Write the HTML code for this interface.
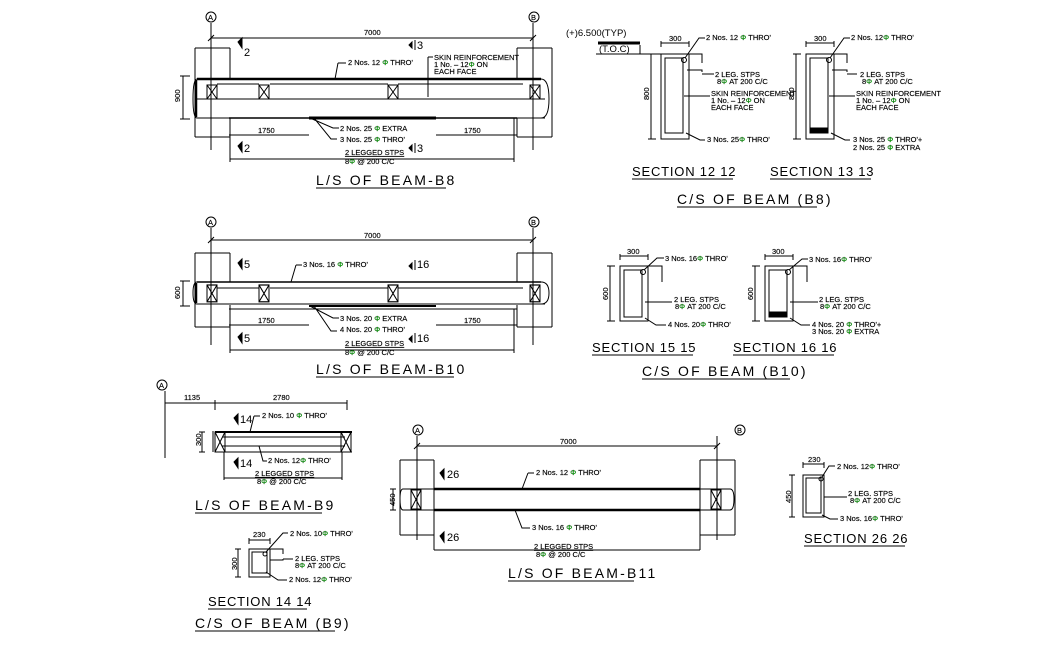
<!DOCTYPE html>
<html><head><meta charset="utf-8"><style>
html,body{margin:0;padding:0;background:#fff}
svg{display:block}
text{font-family:"Liberation Sans",sans-serif;fill:#000}
.s{font-size:7.5px;stroke:#000;stroke-width:0.15px}
.t{font-size:14px;letter-spacing:2.2px}
.st{font-size:13px;letter-spacing:0.8px}
.g{fill:#0c0}
</style></head><body>
<svg width="1059" height="655" viewBox="0 0 1059 655" xmlns="http://www.w3.org/2000/svg" stroke="#000" stroke-width="1" fill="none">
<defs>
<g id="x"><rect x="0" y="0" width="10" height="14"/><path d="M0 0L10 14M10 0L0 14"/></g>
</defs>

<!-- ================= B8 L/S ================= -->
<g>
<circle cx="211" cy="17" r="5"/><text x="208" y="20" class="s" stroke="none">A</text>
<circle cx="534" cy="17" r="5"/><text x="531" y="20" class="s" stroke="none">B</text>
<path d="M211 23V150M533 23V150"/>
<path d="M211 38H533M208 41L214 35M530 41L536 35"/>
<text x="364" y="35" class="s" stroke="none">7000</text>
<path d="M195 48H230M195 48V137M230 48V79M195 137H230M230 118V139"/>
<path d="M517 48H552M552 48V137M517 48V79M517 137H552M517 118V137"/>
<path d="M183 76V119M180 76H190M180 119H190"/>
<text x="180" y="102" class="s" stroke="none" transform="rotate(-90 180 102)">900</text>
<path d="M197 79H541" stroke-width="2.5"/>
<path d="M197 99H545M197 118H545M197 79Q193 79 193 99Q193 118 197 118M541 79Q549 79 549 99Q549 118 541 118"/>
<path d="M196 80V117" stroke-width="2.5"/>
<path d="M217 84H259M270 84H388M398 84H523"/>
<use href="#x" x="207" y="85"/><use href="#x" x="259" y="85"/><use href="#x" x="388" y="85"/><use href="#x" x="530" y="85"/>
<path d="M229 118H517" stroke-width="1.5"/>
<path d="M309 118H436" stroke-width="3"/>
<path d="M229 135H309M436 135H517"/>
<text x="258" y="133" class="s" stroke="none">1750</text>
<text x="464" y="133" class="s" stroke="none">1750</text>
<path d="M230 159H514"/>
<path d="M230 118V162M514 118V162"/>
<path d="M238 42L242 38V48Z" fill="#000"/><text x="244" y="56" font-size="11" stroke="none">2</text>
<path d="M238 146L242 142V152Z" fill="#000"/><text x="244" y="152" font-size="11" stroke="none">2</text>
<path d="M412 42L409 45L412 48Z" fill="#000"/><path d="M415 40V50"/><text x="417" y="49" font-size="11" stroke="none">3</text>
<path d="M412 145L409 148L412 151Z" fill="#000"/><path d="M415 143V153"/><text x="417" y="152" font-size="11" stroke="none">3</text>
<path d="M338 63H346M338 63L335 79"/>
<text x="348" y="65" class="s">2 Nos. 12 <tspan class="g">Φ</tspan> THRO'</text>
<path d="M428 57V97M428 57H433"/>
<text x="434" y="60" class="s">SKIN REINFORCEMENT</text>
<text x="434" y="67" class="s">1 No. – 12<tspan class="g">Φ</tspan> ON</text>
<text x="434" y="74" class="s">EACH FACE</text>
<path d="M310 118L333 128H339M314 118L331 139H337"/>
<text x="340" y="131" class="s">2 Nos. 25 <tspan class="g">Φ</tspan> EXTRA</text>
<text x="340" y="142" class="s">3 Nos. 25 <tspan class="g">Φ</tspan> THRO'</text>
<text x="345" y="155" class="s" text-decoration="underline">2 LEGGED STPS</text>
<text x="345" y="164" class="s">8<tspan class="g">Φ</tspan> @ 200 C/C</text>
<text x="316" y="185" class="t" stroke="none">L/S OF BEAM-B8</text>
<path d="M316 188H446"/>
</g>

<!-- ================= B10 L/S ================= -->
<g>
<circle cx="211" cy="222" r="5"/><text x="208" y="225" class="s" stroke="none">A</text>
<circle cx="534" cy="222" r="5"/><text x="531" y="225" class="s" stroke="none">B</text>
<path d="M211 228V345M533 228V345"/>
<path d="M211 240H533M208 243L214 237M530 243L536 237"/>
<text x="364" y="238" class="s" stroke="none">7000</text>
<path d="M195 253H230M195 253V327M230 253V282M195 327H230M230 305V330"/>
<path d="M517 253H552M552 253V327M517 253V282M517 327H552M517 305V327"/>
<path d="M183 281V306M180 281H190M180 306H190"/>
<text x="180" y="299" class="s" stroke="none" transform="rotate(-90 180 299)">600</text>
<path d="M197 282H541" stroke-width="1.5"/>
<path d="M197 304H545M197 282Q193 282 193 293Q193 304 197 304M541 282Q549 282 549 293Q549 304 541 304"/>
<path d="M196 283V303" stroke-width="2.5"/>
<path d="M217 288H259M270 288H388M398 288H523"/>
<g transform="translate(207,285) scale(1,1.2)"><rect width="10" height="14"/><path d="M0 0L10 14M10 0L0 14"/></g>
<g transform="translate(259,285) scale(1,1.2)"><rect width="10" height="14"/><path d="M0 0L10 14M10 0L0 14"/></g>
<g transform="translate(388,285) scale(1,1.2)"><rect width="10" height="14"/><path d="M0 0L10 14M10 0L0 14"/></g>
<g transform="translate(530,285) scale(1,1.2)"><rect width="10" height="14"/><path d="M0 0L10 14M10 0L0 14"/></g>
<path d="M229 309H517"/>
<path d="M309 306H436" stroke-width="2"/>
<path d="M229 325H309M436 325H517"/>
<text x="258" y="323" class="s" stroke="none">1750</text>
<text x="464" y="323" class="s" stroke="none">1750</text>
<path d="M230 350H514M230 309V353M514 309V353"/>
<path d="M238 263L242 259V269Z" fill="#000"/><text x="244" y="268" font-size="11" stroke="none">5</text>
<path d="M238 337L242 333V343Z" fill="#000"/><text x="244" y="342" font-size="11" stroke="none">5</text>
<path d="M412 263L409 266L412 269Z" fill="#000"/><path d="M415 260V270"/><text x="417" y="268" font-size="11" stroke="none">16</text>
<path d="M412 336L409 339L412 342Z" fill="#000"/><path d="M415 333V343"/><text x="417" y="342" font-size="11" stroke="none">16</text>
<path d="M296 265H302M296 265L291 282"/>
<text x="303" y="267" class="s">3 Nos. 16 <tspan class="g">Φ</tspan> THRO'</text>
<path d="M310 306L333 318H339M314 306L331 331H337"/>
<text x="340" y="321" class="s">3 Nos. 20 <tspan class="g">Φ</tspan> EXTRA</text>
<text x="340" y="332" class="s">4 Nos. 20 <tspan class="g">Φ</tspan> THRO'</text>
<text x="345" y="346" class="s" text-decoration="underline">2 LEGGED STPS</text>
<text x="345" y="355" class="s">8<tspan class="g">Φ</tspan> @ 200 C/C</text>
<text x="316" y="374" class="t" stroke="none">L/S OF BEAM-B10</text>
<path d="M316 377H454"/>
</g>

<!-- ================= B8 sections ================= -->
<g>
<text x="566" y="36" font-size="9.5" stroke="none">(+)6.500(TYP)</text>
<text x="599" y="52" font-size="9.5" stroke="none">(T.O.C)</text>
<path d="M598 43H640" stroke-width="3"/>
<path d="M596 54H662M640 45V54"/>
<rect x="661" y="54" width="28" height="85"/>
<rect x="665" y="58" width="18" height="75"/>
<circle cx="684" cy="60" r="2.5"/>
<path d="M661 43H689M661 41V47M689 41V47"/><text x="669" y="41" class="s" stroke="none">300</text>
<path d="M651 54V139M648 54H656M648 139H656"/>
<text x="649" y="100" class="s" stroke="none" transform="rotate(-90 649 100)">800</text>
<path d="M685 58L699 38H705"/><text x="706" y="40" class="s">2 Nos. 12 <tspan class="g">Φ</tspan> THRO'</text>
<path d="M689 54H702V63M687 70H702V72M702 74H714"/>
<text x="715" y="77" class="s">2 LEG. STPS</text>
<text x="717" y="84" class="s">8<tspan class="g">Φ</tspan> AT 200 C/C</text>
<path d="M684 96H710"/><text x="711" y="96" class="s">SKIN REINFORCEMENT</text>
<text x="711" y="103" class="s">1 No. – 12<tspan class="g">Φ</tspan> ON</text>
<text x="711" y="110" class="s">EACH FACE</text>
<path d="M686 133L700 140H705"/><text x="707" y="142" class="s">3 Nos. 25<tspan class="g">Φ</tspan> THRO'</text>
<text x="632" y="176" class="st" stroke="none">SECTION 12 12</text>
<path d="M632 179H733"/>
<rect x="806" y="54" width="28" height="85"/>
<rect x="810" y="58" width="18" height="75"/>
<rect x="811" y="128" width="16" height="4" fill="#000"/>
<circle cx="829" cy="60" r="2.5"/>
<path d="M806 43H834M806 41V47M834 41V47"/><text x="814" y="41" class="s" stroke="none">300</text>
<path d="M796 54V139M793 54H801M793 139H801"/>
<text x="794" y="100" class="s" stroke="none" transform="rotate(-90 794 100)">800</text>
<path d="M830 58L844 38H850"/><text x="851" y="40" class="s">2 Nos. 12<tspan class="g">Φ</tspan> THRO'</text>
<path d="M834 54H847V63M832 70H847V72M847 74H857"/>
<text x="860" y="77" class="s">2 LEG. STPS</text>
<text x="862" y="84" class="s">8<tspan class="g">Φ</tspan> AT 200 C/C</text>
<path d="M829 96H855"/><text x="856" y="96" class="s">SKIN REINFORCEMENT</text>
<text x="856" y="103" class="s">1 No. – 12<tspan class="g">Φ</tspan> ON</text>
<text x="856" y="110" class="s">EACH FACE</text>
<path d="M831 133L845 140H850"/><text x="853" y="142" class="s">3 Nos. 25 <tspan class="g">Φ</tspan> THRO'+</text>
<text x="853" y="150" class="s">2 Nos. 25 <tspan class="g">Φ</tspan> EXTRA</text>
<text x="770" y="176" class="st" stroke="none">SECTION 13 13</text>
<path d="M770 179H871"/>
<text x="677" y="204" class="t" stroke="none">C/S OF BEAM (B8)</text>
<path d="M677 207H817"/>
</g>

<!-- ================= B10 sections ================= -->
<g>
<rect x="620" y="266" width="28" height="55"/>
<rect x="624" y="270" width="18" height="47"/>
<circle cx="643" cy="272" r="2.5"/>
<path d="M620 256H648M620 254V260M648 254V260"/><text x="627" y="254" class="s" stroke="none">300</text>
<path d="M610 266V321M607 266H615M607 321H615"/>
<text x="608" y="300" class="s" stroke="none" transform="rotate(-90 608 300)">600</text>
<path d="M644 270L657 258H664"/><text x="665" y="261" class="s">3 Nos. 16<tspan class="g">Φ</tspan> THRO'</text>
<path d="M648 266H662V282M648 282V302M645 302H672"/>
<text x="674" y="302" class="s">2 LEG. STPS</text>
<text x="675" y="309" class="s">8<tspan class="g">Φ</tspan> AT 200 C/C</text>
<path d="M645 318L656 325H666"/><text x="668" y="327" class="s">4 Nos. 20<tspan class="g">Φ</tspan> THRO'</text>
<text x="592" y="352" class="st" stroke="none">SECTION 15 15</text>
<path d="M592 355H693"/>
<rect x="765" y="266" width="28" height="55"/>
<rect x="769" y="270" width="18" height="47"/>
<rect x="770" y="312" width="16" height="4" fill="#000"/>
<circle cx="788" cy="272" r="2.5"/>
<path d="M765 256H793M765 254V260M793 254V260"/><text x="772" y="254" class="s" stroke="none">300</text>
<path d="M755 266V321M752 266H760M752 321H760"/>
<text x="753" y="300" class="s" stroke="none" transform="rotate(-90 753 300)">600</text>
<path d="M789 270L802 259H808"/><text x="809" y="262" class="s">3 Nos. 16<tspan class="g">Φ</tspan> THRO'</text>
<path d="M793 266H807V282M793 282V302M790 302H818"/>
<text x="819" y="302" class="s">2 LEG. STPS</text>
<text x="820" y="309" class="s">8<tspan class="g">Φ</tspan> AT 200 C/C</text>
<path d="M790 318L801 325H810"/><text x="812" y="327" class="s">4 Nos. 20 <tspan class="g">Φ</tspan> THRO'+</text>
<text x="812" y="334" class="s">3 Nos. 20 <tspan class="g">Φ</tspan> EXTRA</text>
<text x="733" y="352" class="st" stroke="none">SECTION 16 16</text>
<path d="M733 355H834"/>
<text x="642" y="376" class="t" stroke="none">C/S OF BEAM (B10)</text>
<path d="M642 379H790"/>
</g>

<!-- ================= B9 L/S ================= -->
<g>
<circle cx="162" cy="385" r="5"/><text x="159" y="388" class="s" stroke="none">A</text>
<path d="M165 391V458"/>
<path d="M165 403H347M215 400V410M347 400V410"/>
<text x="184" y="400" class="s" stroke="none">1135</text>
<text x="273" y="400" class="s" stroke="none">2780</text>
<path d="M215 432H352" stroke-width="2"/>
<path d="M222 437H345M222 446H345M215 452H352"/>
<path d="M213 431V452"/>
<g transform="translate(215,432)"><rect width="10" height="20"/><path d="M0 0L10 20M10 0L0 20"/></g>
<g transform="translate(341,432)"><rect width="10" height="20"/><path d="M0 0L10 20M10 0L0 20"/></g>
<path d="M202 432V452M199 432H205M199 452H205"/>
<text x="201" y="446" class="s" stroke="none" transform="rotate(-90 201 446)">300</text>
<path d="M224 452V480M342 452V480M224 478H342"/>
<path d="M234 418L238 414V424Z" fill="#000"/><text x="240" y="423" font-size="11" stroke="none">14</text>
<path d="M234 462L238 458V468Z" fill="#000"/><text x="240" y="467" font-size="11" stroke="none">14</text>
<path d="M254 416H260M254 416L250 432"/><text x="262" y="418" class="s">2 Nos. 10 <tspan class="g">Φ</tspan> THRO'</text>
<path d="M259 446L263 461H267"/><text x="268" y="463" class="s">2 Nos. 12<tspan class="g">Φ</tspan> THRO'</text>
<text x="255" y="476" class="s" text-decoration="underline">2 LEGGED STPS</text>
<text x="257" y="484" class="s">8<tspan class="g">Φ</tspan> @ 200 C/C</text>
<text x="195" y="510" class="t" stroke="none">L/S OF BEAM-B9</text>
<path d="M195 513H322"/>
</g>

<g>
<rect x="249" y="549" width="21" height="28"/>
<rect x="252" y="552" width="15" height="21"/>
<circle cx="265" cy="554" r="2"/>
<path d="M249 540H270M249 538V544M270 538V544"/><text x="253" y="537" class="s" stroke="none">230</text>
<path d="M238 549V577M235 549H241M235 577H241"/>
<text x="237" y="570" class="s" stroke="none" transform="rotate(-90 237 570)">300</text>
<path d="M266 552L283 533H288"/><text x="290" y="536" class="s">2 Nos. 10<tspan class="g">Φ</tspan> THRO'</text>
<path d="M270 549H283V554M270 560H283V559M283 559H293"/>
<text x="295" y="561" class="s">2 LEG. STPS</text>
<text x="295" y="568" class="s">8<tspan class="g">Φ</tspan> AT 200 C/C</text>
<path d="M266 572L278 580H287"/><text x="289" y="582" class="s">2 Nos. 12<tspan class="g">Φ</tspan> THRO'</text>
<text x="208" y="606" class="st" stroke="none">SECTION 14 14</text>
<path d="M208 609H307"/>
<text x="195" y="628" class="t" stroke="none">C/S OF BEAM (B9)</text>
<path d="M195 631H335"/>
</g>

<!-- ================= B11 L/S ================= -->
<g>
<circle cx="418" cy="430" r="5"/><text x="415" y="433" class="s" stroke="none">A</text>
<circle cx="740" cy="430" r="5"/><text x="737" y="433" class="s" stroke="none">B</text>
<path d="M417 436V540M717 436V540"/>
<path d="M417 446H717M414 449L420 443M714 449L720 443"/>
<text x="560" y="444" class="s" stroke="none">7000</text>
<path d="M400 460H434M400 460V535M434 460V489M400 535H434M434 510V535"/>
<path d="M700 460H735M735 460V535M700 460V489M700 535H735M700 510V535"/>
<path d="M393 489V510M390 489H396M390 510H396"/>
<text x="395" y="506" class="s" stroke="none" transform="rotate(-90 395 506)">450</text>
<path d="M403 489H730M403 510H730"/>
<path d="M434 489H700M434 510H700" stroke-width="2.5"/>
<path d="M403 489Q400 489 400 499Q400 510 403 510M730 489Q734 489 734 499Q734 510 730 510"/>
<path d="M434 489V550M700 489V550"/>
<g transform="translate(411,490)"><rect width="10" height="19"/><path d="M0 0L10 19M10 0L0 19"/></g>
<g transform="translate(711,490)"><rect width="10" height="19"/><path d="M0 0L10 19M10 0L0 19"/></g>
<path d="M434 550H700"/>
<path d="M440 473L444 469V479Z" fill="#000"/><text x="447" y="478" font-size="11" stroke="none">26</text>
<path d="M440 536L444 532V542Z" fill="#000"/><text x="447" y="541" font-size="11" stroke="none">26</text>
<path d="M528 473H534M528 473L522 489"/><text x="536" y="475" class="s">2 Nos. 12 <tspan class="g">Φ</tspan> THRO'</text>
<path d="M515 510L522 528H530"/><text x="532" y="530" class="s">3 Nos. 16 <tspan class="g">Φ</tspan> THRO'</text>
<text x="534" y="549" class="s" text-decoration="underline">2 LEGGED STPS</text>
<text x="536" y="557" class="s">8<tspan class="g">Φ</tspan> @ 200 C/C</text>
<text x="508" y="578" class="t" stroke="none">L/S OF BEAM-B11</text>
<path d="M508 581H634"/>
</g>

<g>
<rect x="803" y="475" width="21" height="42"/>
<rect x="806" y="478" width="15" height="35"/>
<circle cx="821" cy="479" r="2"/>
<path d="M803 464H824M803 462V468M824 462V468"/><text x="808" y="462" class="s" stroke="none">230</text>
<path d="M792 475V517M789 475H795M789 517H795"/>
<text x="791" y="503" class="s" stroke="none" transform="rotate(-90 791 503)">450</text>
<path d="M822 477L829 466H835"/><text x="837" y="469" class="s">2 Nos. 12<tspan class="g">Φ</tspan> THRO'</text>
<path d="M824 497H847"/><text x="848" y="496" class="s">2 LEG. STPS</text>
<text x="850" y="503" class="s">8<tspan class="g">Φ</tspan> AT 200 C/C</text>
<path d="M822 515L830 519H838"/><text x="840" y="521" class="s">3 Nos. 16<tspan class="g">Φ</tspan> THRO'</text>
<text x="804" y="543" class="st" stroke="none">SECTION 26 26</text>
<path d="M804 546H905"/>
</g>
</svg>
</body></html>
